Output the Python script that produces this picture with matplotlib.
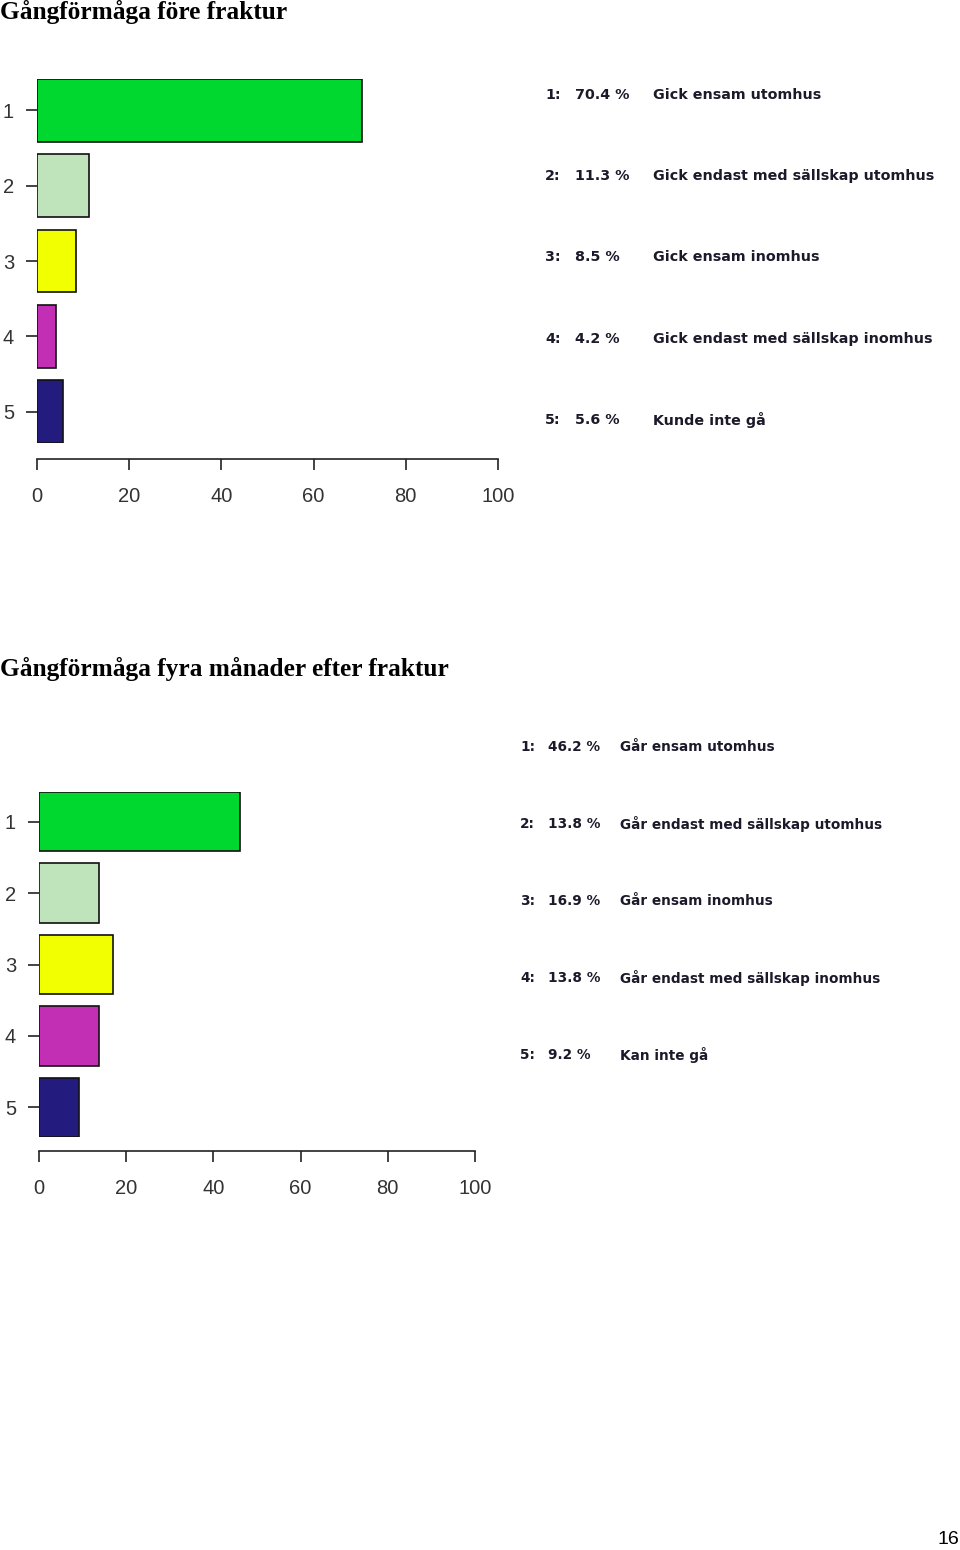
import matplotlib
matplotlib.use('Agg')
import matplotlib.pyplot as plt

# data
categories = [1, 2, 3, 4, 5]
before_values = [70.4, 11.3, 8.5, 4.2, 5.6]
before_labels = ['Gick ensam utomhus', 'Gick endast med sällskap utomhus',
                 'Gick ensam inomhus', 'Gick endast med sällskap inomhus',
                 'Kunde inte gå']
after_values = [46.2, 13.8, 16.9, 13.8, 9.2]
after_labels = ['Går ensam utomhus', 'Går endast med sällskap utomhus',
                'Går ensam inomhus', 'Går endast med sällskap inomhus',
                'Kan inte gå']
bar_colors = ['#00d82f', '#bfe3bb', '#f2ff00', '#c22fb5', '#231b7e']
xticks = [0, 20, 40, 60, 80, 100]

W, H = 960, 1550
PT = 0.72  # points per pixel at dpi 100
fig = plt.figure(figsize=(W / 100, H / 100), dpi=100)


def px_axes(x0, x1, y0, y1):
    # pixel box -> figure coords
    return fig.add_axes([x0 / W, 1 - y1 / H, (x1 - x0) / W, (y1 - y0) / H])


def draw_bars(ax, values, gap_px):
    ax.barh(categories, values, height=0.83, color=bar_colors,
            edgecolor='#111111', linewidth=1.2)
    ax.set_xlim(0, 100)
    ax.set_ylim(5.415, 0.585)
    for s in ['top', 'right', 'left']:
        ax.spines[s].set_visible(False)
    ax.spines['bottom'].set_position(('outward', gap_px * PT))
    ax.spines['bottom'].set_linewidth(1.2)
    ax.spines['bottom'].set_color('#222222')
    ax.set_xticks(xticks)
    ax.set_yticks(categories)
    ax.tick_params(axis='x', length=11 * PT, width=1.2, color='#222222',
                   pad=17 * PT, labelsize=14.5, labelcolor='#333333')
    ax.tick_params(axis='y', length=11 * PT, width=1.2, color='#222222',
                   pad=12 * PT, labelsize=14.5, labelcolor='#333333')
    for t in ax.get_xticklabels() + ax.get_yticklabels():
        t.set_family('Liberation Sans')


def draw_legend(x_num, x_val, x_lab, ys, values, labels, size):
    for i, (v, lab) in enumerate(zip(values, labels)):
        y = 1 - ys[i] / H
        kw = dict(fontsize=size, fontweight='bold', color='#1c1a2a',
                  family='DejaVu Sans', va='center')
        fig.text(x_num / W, y, '%d:' % categories[i], **kw)
        fig.text(x_val / W, y, '%.1f %%' % v, **kw)
        fig.text(x_lab / W, y, lab, **kw)


title_kw = dict(fontsize=18.3, fontweight='bold', family='Liberation Serif',
                color='black', va='center', ha='left')

# Top chart
fig.text(0.0, 1 - 12 / H, 'Gångförmåga före fraktur', **title_kw)
ax1 = px_axes(37, 498, 79, 443)
draw_bars(ax1, before_values, 16)
draw_legend(545, 575, 653, [95, 176, 257, 339, 420], before_values,
            before_labels, 10.3)

# Bottom chart
fig.text(0.0, 1 - 669 / H, 'Gångförmåga fyra månader efter fraktur', **title_kw)
ax2 = px_axes(39, 475, 792, 1137)
draw_bars(ax2, after_values, 14)
draw_legend(520, 548, 620, [747, 824, 901, 978, 1055], after_values,
            after_labels, 9.8)

# page number
fig.text(948 / W, 1 - 1540 / H, '16', fontsize=14, family='Liberation Sans',
         ha='center', va='center', color='black')

fig.savefig('out.png', dpi=100)
